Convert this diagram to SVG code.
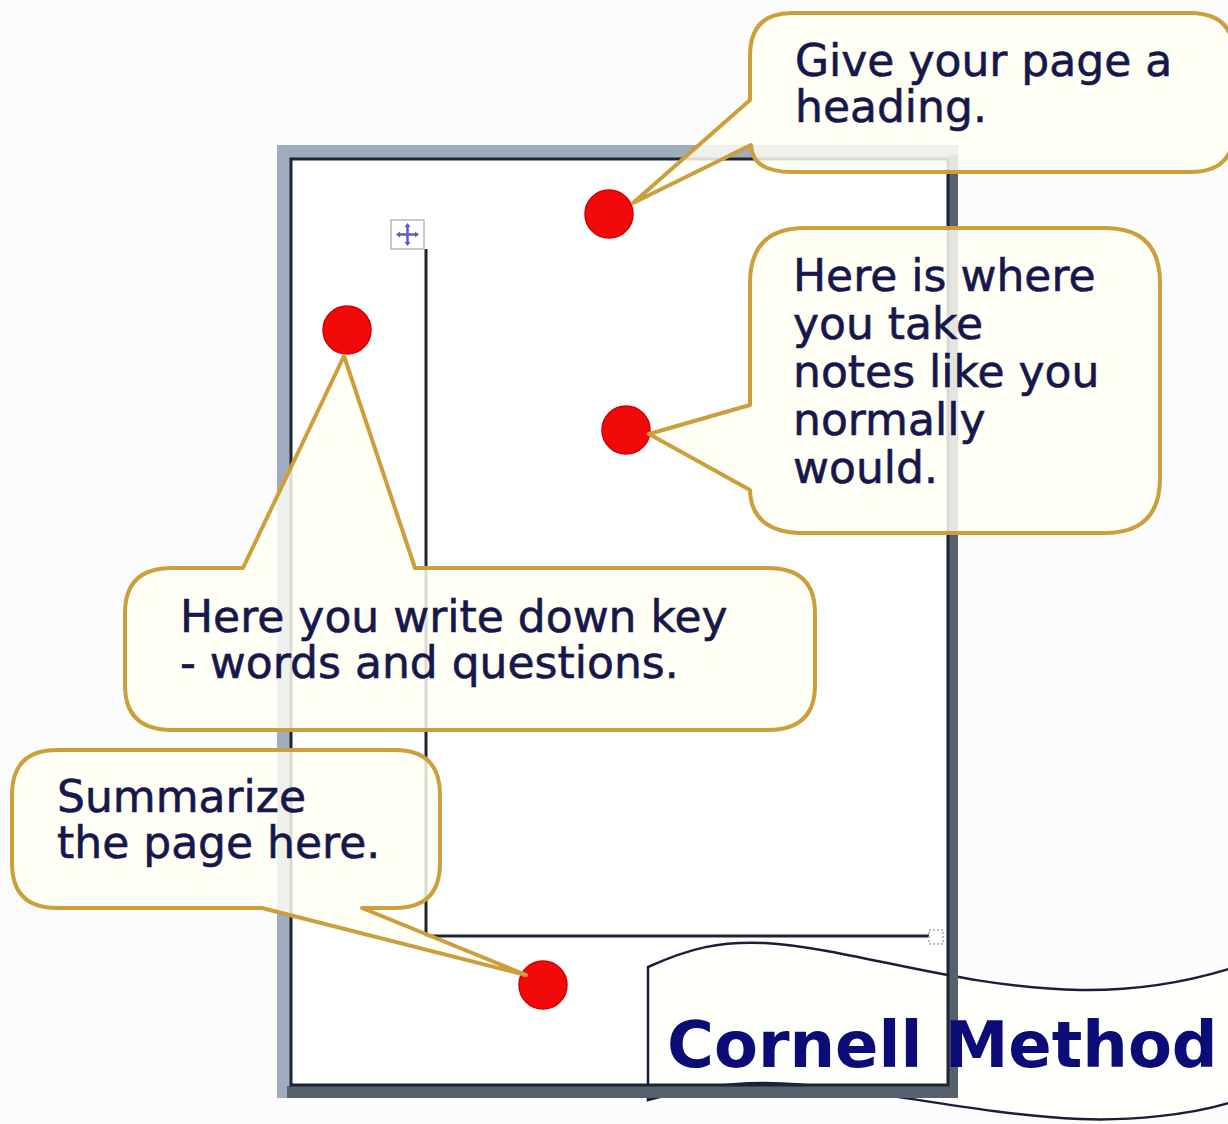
<svg xmlns="http://www.w3.org/2000/svg" width="1228" height="1124" viewBox="0 0 1228 1124">
<style>
.callout{fill:#fffff4;fill-opacity:0.84;stroke:#cc9f3c;stroke-width:4;stroke-linejoin:round}
.txt{font-family:"DejaVu Sans",Verdana,sans-serif;font-size:44px;fill:#17174c;stroke:#17174c;stroke-width:0.6}
.title{font-family:"DejaVu Sans",Verdana,sans-serif;font-size:64px;font-weight:bold;fill:#0c0c78}
.dot{fill:#f20a0a;stroke:#d00000;stroke-width:1.5}
.pageline{stroke:#1e2433;stroke-width:3;fill:none}
.shadow{fill:#56606f}
</style>
<rect x="0" y="0" width="1228" height="1124" fill="#fcfcfd"/>

<g id="page">
  <rect x="277" y="145" width="681" height="953" fill="#9eacbe"/>
  <rect x="291" y="159" width="657" height="926" fill="#ffffff"/>
</g>

<g id="banner">
  <path d="M648,967 C690,948 720,941 765,943 C850,948 960,988 1080,990 C1150,991 1200,978 1232,968 L1232,1102 C1190,1115 1130,1121 1080,1119 C960,1113 860,1084 765,1083 C720,1083 685,1090 648,1100 Z" fill="#fffffb" fill-opacity="0.9" stroke="#1c1c3c" stroke-width="2.5"/>
</g>

<g id="page-lines">
  <rect class="shadow" x="949" y="155" width="9" height="943"/>
  <rect class="shadow" x="287" y="1086" width="671" height="12"/>
  <rect x="291" y="159" width="657" height="926" class="pageline"/>
  <line x1="426" y1="249" x2="426" y2="937" class="pageline" stroke-width="2.5"/>
  <line x1="426" y1="936" x2="934" y2="936" class="pageline" stroke-width="2.5"/>
  <g id="move-handle">
    <rect x="391" y="220" width="33" height="29" fill="#ffffff" stroke="#b8b8b8" stroke-width="1.5"/>
    <path d="M407.5,225 V244 M398,234.5 H417" stroke="#5a5ac8" stroke-width="2.5"/>
    <path d="M407.5,223 l-3,4 h6 z M407.5,246 l-3,-4 h6 z M396,234.5 l4,-3 v6 z M419,234.5 l-4,-3 v6 z" fill="#5a5ac8"/>
  </g>
  <rect id="resize-handle" x="929" y="930" width="14" height="14" fill="#ffffff" stroke="#a8a8a8" stroke-width="1.5" stroke-dasharray="2 2"/>
</g>

<g id="dots">
  <circle id="dot-heading" class="dot" cx="609" cy="214" r="24"/>
  <circle id="dot-cue" class="dot" cx="347" cy="330" r="24"/>
  <circle id="dot-notes" class="dot" cx="626" cy="430" r="24"/>
  <circle id="dot-summary" class="dot" cx="543" cy="985" r="24"/>
</g>

<g id="callout-heading">
  <path class="callout" d="M792,13 H1190 Q1234,13 1234,56 V130 Q1234,172 1190,172 H792 Q752,172 751,145 L633,203 L750,100 V56 Q750,13 792,13 Z"/>
  <text class="txt" x="795" y="76">Give your page a</text>
  <text class="txt" x="795" y="122">heading.</text>
</g>

<g id="callout-notes">
  <path class="callout" d="M805,228 H1105 Q1160,228 1160,283 V478 Q1160,533 1105,533 H805 Q751,533 750,490 L649,434 L750,405 V283 Q750,228 805,228 Z"/>
  <text class="txt" x="793" y="291">Here is where</text>
  <text class="txt" x="793" y="339">you take</text>
  <text class="txt" x="793" y="387">notes like you</text>
  <text class="txt" x="793" y="435">normally</text>
  <text class="txt" x="793" y="483">would.</text>
</g>

<g id="callout-cue">
  <path class="callout" d="M172,568 H243 L344,356 L415,568 H768 Q815,568 815,613 V685 Q815,730 768,730 H172 Q125,730 125,685 V613 Q125,568 172,568 Z"/>
  <text class="txt" x="180" y="632">Here you write down key</text>
  <text class="txt" x="180" y="678">- words and questions.</text>
</g>

<g id="callout-summary">
  <path class="callout" d="M57,750 H395 Q440,750 440,795 V863 Q440,908 395,908 H362 L526,975 L262,908 H57 Q12,908 12,863 V795 Q12,750 57,750 Z"/>
  <text class="txt" x="57" y="812">Summarize</text>
  <text class="txt" x="57" y="858">the page here.</text>
</g>

<g id="title">
  <text class="title" x="667" y="1067">Cornell Method</text>
</g>
</svg>
